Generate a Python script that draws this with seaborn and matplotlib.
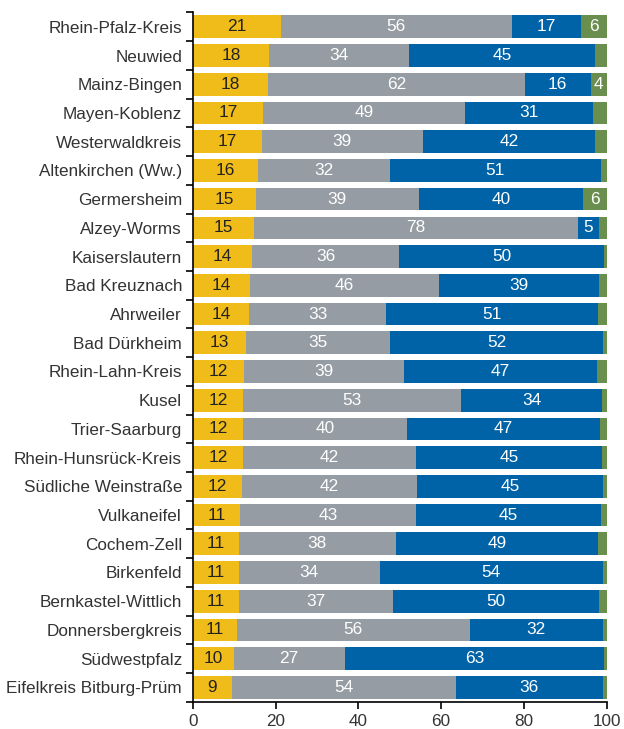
import numpy as np
import pandas as pd
import seaborn as sns
import matplotlib.pyplot as plt
from matplotlib.ticker import FixedLocator

regions = ['Rhein-Pfalz-Kreis', 'Neuwied', 'Mainz-Bingen', 'Mayen-Koblenz',
           'Westerwaldkreis', 'Altenkirchen (Ww.)', 'Germersheim', 'Alzey-Worms',
           'Kaiserslautern', 'Bad Kreuznach', 'Ahrweiler', 'Bad Dürkheim',
           'Rhein-Lahn-Kreis', 'Kusel', 'Trier-Saarburg', 'Rhein-Hunsrück-Kreis',
           'Südliche Weinstraße', 'Vulkaneifel', 'Cochem-Zell', 'Birkenfeld',
           'Bernkastel-Wittlich', 'Donnersbergkreis', 'Südwestpfalz',
           'Eifelkreis Bitburg-Prüm']

# shares in percent
yellow = [21.2, 18.3, 18.1, 16.9, 16.6, 15.6, 15.2, 14.7, 14.2, 13.7, 13.6, 12.7,
          12.3, 12.0, 12.0, 12.0, 11.8, 11.3, 11.0, 11.0, 11.0, 10.6, 9.8, 9.4]
gray = [55.9, 33.9, 62.1, 48.8, 38.9, 32.0, 39.4, 78.4, 35.6, 45.7, 33.1, 34.9,
        38.6, 52.8, 39.7, 41.9, 42.3, 42.7, 38.0, 34.2, 37.4, 56.3, 26.9, 54.1]
blue = [16.7, 45.0, 16.0, 31.0, 41.8, 51.0, 39.7, 5.0, 49.6, 38.7, 51.2, 51.6,
        46.7, 34.1, 46.7, 45.0, 45.0, 44.6, 48.9, 53.9, 49.7, 32.2, 62.7, 35.6]
green = [6.2, 2.8, 3.8, 3.3, 2.7, 1.4, 5.7, 1.9, 0.6, 1.9, 2.1, 0.8,
         2.4, 1.1, 1.6, 1.1, 0.9, 1.4, 2.1, 0.9, 1.9, 0.9, 0.6, 0.9]

seg_names = ['yellow', 'gray', 'blue', 'green']
seg_colors = {'yellow': '#F0BC1A', 'gray': '#959CA3', 'blue': '#0063A8', 'green': '#6A8E4D'}
label_colors = {'yellow': '#222222', 'gray': 'white', 'blue': 'white', 'green': 'white'}

sns.set_style('ticks')
plt.rcParams['font.family'] = ['Liberation Sans', 'DejaVu Sans']

df = pd.DataFrame({'region': regions, 'yellow': yellow, 'gray': gray,
                   'blue': blue, 'green': green})

# cumulative ends for stacking
df['cum_yellow'] = df['yellow']
df['cum_gray'] = df['cum_yellow'] + df['gray']
df['cum_blue'] = df['cum_gray'] + df['blue']
df['cum_green'] = df['cum_blue'] + df['green']

fig = plt.figure(figsize=(6.24, 7.29), dpi=100)
ax = fig.add_axes([0.3095, 0.0374, 0.6625, 0.9455])

# draw from the right-most segment back so each one covers the rest
for seg in reversed(seg_names):
    sns.barplot(data=df, y='region', x='cum_' + seg, color=seg_colors[seg],
                saturation=1, width=0.79, orient='y', errorbar=None,
                linewidth=0, ax=ax)

# value labels
for i, row in df.iterrows():
    left = 0
    for seg in seg_names:
        v = row[seg]
        if v >= 3.5:
            ax.text(left + v / 2, i, f'{v:.0f}', ha='center', va='center',
                    fontsize=12.4, color=label_colors[seg])
        left += v

ax.set_xlim(0, 100)
ax.set_ylim(len(regions) - 0.5, -0.5)
ax.set_xticks([0, 20, 40, 60, 80, 100])
ax.yaxis.set_minor_locator(FixedLocator(np.arange(-0.5, len(regions), 1)))
ax.tick_params(axis='y', which='major', length=0, pad=8, labelsize=12.3, labelcolor='#333333')
ax.tick_params(axis='y', which='minor', length=5, width=1.2, color='black')
ax.tick_params(axis='x', which='major', length=5, width=1.2, color='black',
               labelsize=12.3, labelcolor='#333333', pad=4)
ax.set_xlabel('')
ax.set_ylabel('')

sns.despine(ax=ax)
for side in ['left', 'bottom']:
    ax.spines[side].set_linewidth(1.2)
    ax.spines[side].set_color('black')

plt.savefig('out.png', dpi=100)
